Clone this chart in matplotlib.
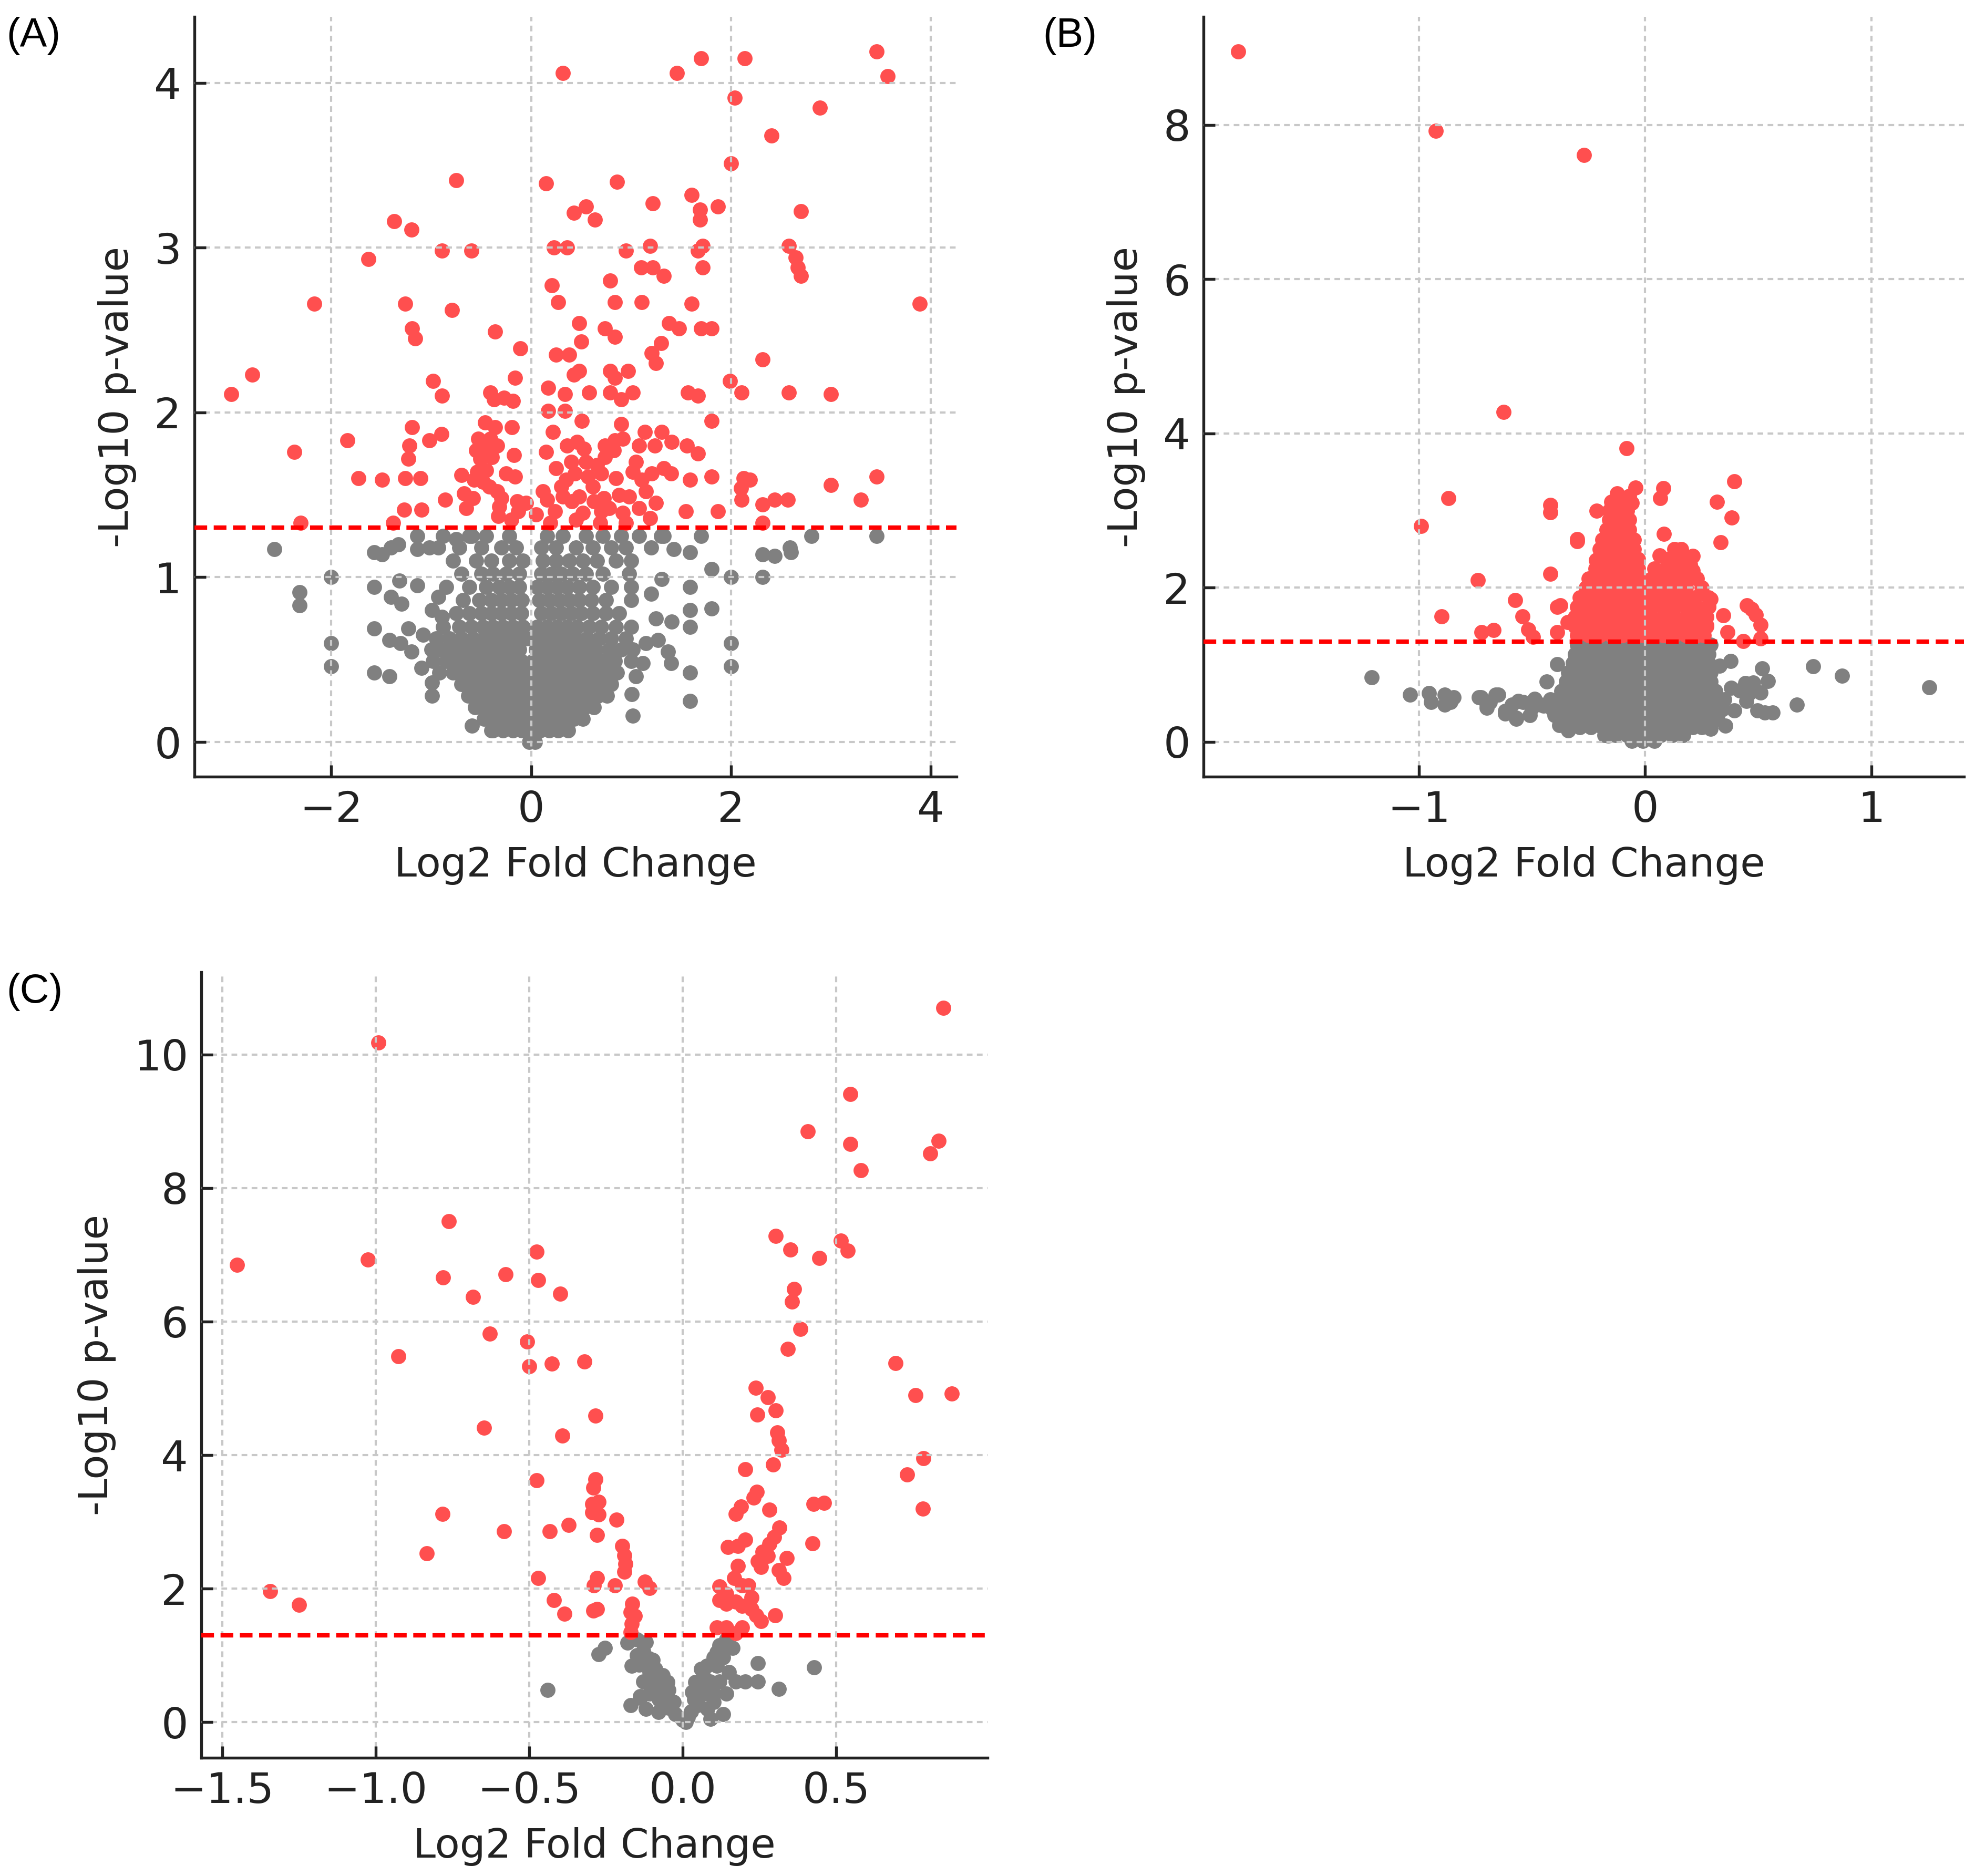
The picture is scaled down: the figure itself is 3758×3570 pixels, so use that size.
import matplotlib
matplotlib.use("Agg")
import matplotlib.pyplot as plt

# ---------------- Panel A data ----------------
a_sig = [
    (0.32, 4.06), (1.46, 4.06), (1.70, 4.15), (2.14, 4.15), (3.46, 4.19), (3.57, 4.04),
    (2.04, 3.91), (2.89, 3.85), (2.41, 3.68), (2.00, 3.51), (-0.75, 3.41), (0.15, 3.39),
    (0.86, 3.40), (1.22, 3.27), (1.61, 3.32), (1.69, 3.23), (1.69, 3.17), (1.87, 3.25),
    (0.55, 3.25), (0.43, 3.21), (0.64, 3.17), (2.70, 3.22), (-1.37, 3.16), (-1.20, 3.11),
    (-1.63, 2.93), (-0.89, 2.98), (-0.60, 2.98), (0.23, 3.00), (0.36, 3.00), (0.95, 2.98),
    (1.19, 3.01), (1.10, 2.88), (1.22, 2.88), (1.33, 2.83), (1.67, 2.98), (1.72, 3.01),
    (1.72, 2.88), (2.58, 3.01), (2.65, 2.94), (2.67, 2.88), (2.70, 2.83), (0.79, 2.80),
    (0.21, 2.77), (0.27, 2.67), (0.84, 2.67), (1.11, 2.67), (1.61, 2.66), (3.89, 2.66),
    (-2.17, 2.66), (-1.26, 2.66), (-0.79, 2.62), (-1.19, 2.51), (-1.16, 2.45), (-0.36, 2.49),
    (0.48, 2.54), (0.74, 2.51), (0.84, 2.46), (1.38, 2.54), (1.48, 2.51), (1.70, 2.51),
    (1.81, 2.51), (-0.11, 2.39), (0.50, 2.43), (0.25, 2.35), (0.38, 2.35), (1.21, 2.36),
    (1.30, 2.42), (1.25, 2.30), (2.32, 2.32), (-2.79, 2.23), (-0.16, 2.21), (-0.98, 2.19),
    (0.79, 2.25), (0.84, 2.21), (0.97, 2.25), (0.48, 2.25), (0.43, 2.23), (1.99, 2.19),
    (-3.00, 2.11), (-0.89, 2.10), (-0.41, 2.12), (-0.37, 2.08), (-0.27, 2.09), (-0.18, 2.07),
    (0.17, 2.15), (0.34, 2.11), (0.58, 2.12), (0.79, 2.12), (0.90, 2.08), (1.02, 2.12),
    (1.57, 2.12), (1.67, 2.10), (2.11, 2.12), (2.58, 2.12), (3.00, 2.11), (0.17, 2.01),
    (0.34, 2.01), (1.81, 1.95), (-1.19, 1.91), (-0.46, 1.94), (-0.36, 1.91), (-0.19, 1.91),
    (0.22, 1.88), (0.51, 1.95), (0.90, 1.93), (1.14, 1.88), (1.31, 1.88), (-1.02, 1.83),
    (-0.90, 1.87), (-1.84, 1.83), (-2.37, 1.76), (-0.53, 1.84), (-0.41, 1.84), (-0.44, 1.78),
    (-0.34, 1.80), (-1.22, 1.80), (-1.23, 1.72), (-0.55, 1.77), (-0.51, 1.72), (-0.39, 1.73),
    (-0.17, 1.74), (0.36, 1.80), (0.46, 1.82), (0.53, 1.78), (0.15, 1.76), (0.74, 1.80),
    (0.84, 1.83), (0.92, 1.84), (0.83, 1.77), (0.74, 1.73), (1.08, 1.80), (1.24, 1.80),
    (1.41, 1.82), (1.56, 1.80), (1.67, 1.75), (-1.73, 1.60), (-1.49, 1.59), (-1.26, 1.60),
    (-1.11, 1.60), (-0.70, 1.62), (-0.57, 1.59), (-0.48, 1.58), (-0.54, 1.64), (-0.25, 1.63),
    (-0.16, 1.61), (0.25, 1.66), (0.35, 1.59), (0.44, 1.63), (0.57, 1.61), (0.70, 1.63),
    (1.02, 1.64), (1.11, 1.59), (1.21, 1.63), (1.33, 1.66), (1.40, 1.63), (1.59, 1.59),
    (1.81, 1.61), (2.13, 1.60), (2.19, 1.59), (2.10, 1.54), (3.00, 1.56), (3.46, 1.61),
    (3.30, 1.47), (2.44, 1.47), (2.57, 1.47), (2.32, 1.44), (2.11, 1.47), (1.87, 1.40),
    (-0.86, 1.47), (-0.67, 1.51), (-0.65, 1.42), (-1.27, 1.41), (-1.10, 1.41), (-0.34, 1.52),
    (-0.32, 1.43), (-0.33, 1.37), (-0.14, 1.46), (-0.13, 1.40), (0.16, 1.47), (0.24, 1.40),
    (0.32, 1.49), (0.41, 1.46), (0.48, 1.49), (0.52, 1.39), (0.63, 1.46), (0.73, 1.48),
    (0.78, 1.42), (0.98, 1.49), (1.08, 1.42), (0.92, 1.39), (1.19, 1.36), (-2.31, 1.33),
    (-1.38, 1.33), (2.32, 1.33), (0.19, 1.33), (0.69, 1.33), (0.95, 1.33),
    (-0.45, 1.65), (-0.42, 1.55), (-0.30, 1.48), (0.30, 1.55), (0.40, 1.70), (0.55, 1.70),
    (0.62, 1.55), (0.66, 1.68), (0.85, 1.60), (0.88, 1.50), (1.05, 1.70), (1.15, 1.52),
    (0.12, 1.52), (0.05, 1.38), (-0.05, 1.45), (0.45, 1.35), (-0.58, 1.48), (-0.20, 1.35),
    (0.70, 1.40), (1.25, 1.45), (1.55, 1.40),
]

a_nonsig_scatter = [
    (-2.57, 1.17), (-2.00, 1.00), (-2.32, 0.91), (-2.32, 0.83), (-2.00, 0.60), (-2.00, 0.46),
    (-1.57, 1.15), (-1.49, 1.14), (-1.40, 1.18), (-1.33, 1.20), (-1.57, 0.94), (-1.40, 0.88),
    (-1.32, 0.98), (-1.30, 0.84), (-1.57, 0.69), (-1.42, 0.62), (-1.31, 0.60), (-1.23, 0.69),
    (-1.57, 0.42), (-1.42, 0.40), (-1.14, 1.17), (-1.14, 1.25), (-0.93, 1.18), (-0.75, 1.23),
    (-0.59, 1.25), (-0.93, 0.88), (-0.89, 0.76), (-0.99, 0.80), (2.60, 1.15), (2.32, 1.14),
    (2.44, 1.13), (2.81, 1.25), (3.46, 1.25), (2.59, 1.18), (2.32, 1.00), (2.00, 1.00),
    (2.00, 0.60), (2.00, 0.46), (1.81, 1.05), (1.81, 0.81), (1.59, 1.15), (1.59, 0.94),
    (1.59, 0.80), (1.59, 0.70), (1.59, 0.42), (1.59, 0.25), (1.70, 1.25), (1.43, 1.17),
    (1.33, 1.25), (1.31, 0.99), (1.41, 0.73), (1.27, 0.62), (1.37, 0.55), (1.40, 0.48),
    (1.02, 0.16), (1.01, 0.29), (-0.99, 0.28), (-0.99, 0.36), (-0.59, 0.10), (-0.40, 0.07),
    (-1.14, 0.95), (-1.20, 0.55), (-1.10, 0.45), (1.20, 0.90), (1.25, 0.75), (1.15, 0.60),
    (1.05, 0.40), (1.12, 0.48), (-1.08, 0.65),
]

a_nonsig_rows = [
    (0.00, [-0.02, 0.04]),
    (0.07, [-0.38, -0.28, -0.18, -0.09, 0.00, 0.09, 0.18, 0.27, 0.37]),
    (0.14, [-0.47, -0.37, -0.27, -0.17, -0.07, 0.03, 0.13, 0.23, 0.33, 0.43, 0.52]),
    (0.21, [-0.56, -0.46, -0.36, -0.26, -0.16, -0.06, 0.04, 0.14, 0.24, 0.34, 0.44, 0.54, 0.63]),
    (0.28, [-0.63, -0.53, -0.43, -0.33, -0.23, -0.13, -0.03, 0.07, 0.17, 0.27, 0.37, 0.47, 0.57, 0.67, 0.76]),
    (0.35, [-0.70, -0.60, -0.50, -0.40, -0.30, -0.20, -0.10, 0.00, 0.10, 0.20, 0.30, 0.40, 0.50, 0.60, 0.70, 0.80]),
    (0.42, [-0.92, -0.78, -0.67, -0.56, -0.45, -0.35, -0.25, -0.15, -0.05, 0.06, 0.16, 0.26, 0.36, 0.46, 0.56, 0.66, 0.76, 0.86]),
    (0.49, [-0.98, -0.85, -0.74, -0.62, -0.50, -0.40, -0.30, -0.20, -0.10, 0.02, 0.12, 0.22, 0.32, 0.42, 0.52, 0.62, 0.72, 0.84, 1.00]),
    (0.56, [-1.00, -0.90, -0.78, -0.66, -0.55, -0.44, -0.33, -0.22, -0.12, 0.05, 0.15, 0.25, 0.35, 0.45, 0.55, 0.65, 0.78, 0.90, 1.02]),
    (0.63, [-0.95, -0.82, -0.70, -0.58, -0.47, -0.36, -0.25, -0.15, -0.04, 0.05, 0.15, 0.25, 0.35, 0.45, 0.56, 0.68, 0.80, 0.95]),
    (0.70, [-0.88, -0.72, -0.60, -0.48, -0.38, -0.28, -0.18, -0.08, 0.06, 0.16, 0.26, 0.36, 0.46, 0.58, 0.70, 0.85, 1.00]),
    (0.78, [-0.75, -0.62, -0.50, -0.40, -0.30, -0.20, -0.10, 0.10, 0.20, 0.30, 0.40, 0.50, 0.62, 0.75, 0.88]),
    (0.86, [-0.68, -0.52, -0.40, -0.30, -0.20, -0.09, 0.08, 0.18, 0.28, 0.38, 0.48, 0.60, 0.75, 1.00]),
    (0.94, [-0.85, -0.62, -0.45, -0.32, -0.22, -0.12, 0.06, 0.16, 0.26, 0.36, 0.48, 0.62, 0.80, 1.00]),
    (1.02, [-0.70, -0.50, -0.38, -0.25, -0.12, 0.10, 0.20, 0.30, 0.42, 0.55, 0.72, 0.98]),
    (1.10, [-0.78, -0.55, -0.40, -0.22, -0.08, 0.12, 0.25, 0.38, 0.52, 0.66, 0.85, 1.00]),
    (1.18, [-1.02, -0.72, -0.50, -0.30, -0.15, 0.10, 0.25, 0.45, 0.62, 0.80, 0.95, 1.20]),
    (1.25, [-0.88, -0.62, -0.45, -0.22, 0.16, 0.32, 0.55, 0.72, 0.90, 1.08, 1.30]),
]

# ---------------- Panel B data ----------------
b_sig = [
    (-1.80, 8.95), (-0.925, 7.92), (-0.27, 7.61), (-0.625, 4.28), (-0.083, 3.81), (0.395, 3.38),
    (-0.87, 3.16), (-0.99, 2.80), (-0.42, 3.07), (-0.42, 2.98), (0.317, 3.11), (0.383, 2.91),
    (0.333, 2.59), (-0.30, 2.63), (-0.215, 3.00), (0.08, 3.29), (0.067, 3.16), (0.084, 2.70),
    (0.064, 2.42), (-0.043, 3.30), (-0.07, 3.19), (-0.123, 3.22), (-0.15, 3.11), (-0.74, 2.10),
    (-0.42, 2.18), (-0.90, 1.63), (-0.576, 1.84), (-0.543, 1.63), (-0.516, 1.46), (-0.496, 1.36),
    (-0.723, 1.42), (-0.67, 1.45), (-0.39, 1.75), (-0.376, 1.77), (-0.343, 1.55), (-0.39, 1.42),
    (0.346, 1.64), (0.365, 1.42), (0.435, 1.31), (0.45, 1.77), (0.47, 1.72), (0.49, 1.65),
    (0.51, 1.52), (0.51, 1.34), (0.28, 1.76), (0.29, 1.85), (0.27, 1.51), (0.21, 2.41),
    (0.20, 2.30), (0.21, 2.22), (-0.30, 2.60), (-0.216, 2.36),
]

b_sig_rows = [
    (1.38, [-0.30, -0.25, -0.20, -0.15, -0.10, -0.05, -0.01, 0.03, 0.08, 0.13, 0.18, 0.23, 0.26]),
    (1.50, [-0.31, -0.26, -0.21, -0.16, -0.11, -0.06, -0.01, 0.03, 0.08, 0.13, 0.18, 0.23, 0.27]),
    (1.62, [-0.31, -0.26, -0.21, -0.16, -0.11, -0.06, -0.01, 0.03, 0.08, 0.13, 0.18, 0.23, 0.27]),
    (1.75, [-0.30, -0.25, -0.20, -0.15, -0.10, -0.05, -0.01, 0.03, 0.08, 0.13, 0.18, 0.23, 0.28]),
    (1.87, [-0.29, -0.24, -0.19, -0.14, -0.09, -0.04, 0.02, 0.07, 0.12, 0.17, 0.22, 0.28]),
    (2.00, [-0.26, -0.21, -0.16, -0.11, -0.06, -0.02, 0.03, 0.08, 0.13, 0.18, 0.25]),
    (2.12, [-0.25, -0.20, -0.15, -0.10, -0.05, -0.02, 0.03, 0.08, 0.13, 0.18, 0.23]),
    (2.25, [-0.22, -0.17, -0.12, -0.07, -0.03, 0.04, 0.09, 0.14, 0.19]),
    (2.37, [-0.21, -0.16, -0.11, -0.06, -0.03, 0.10, 0.15, 0.19]),
    (2.50, [-0.20, -0.15, -0.10, -0.05, 0.13, 0.16]),
    (2.62, [-0.19, -0.14, -0.09, -0.05]),
    (2.75, [-0.17, -0.12, -0.07]),
    (2.88, [-0.16, -0.11, -0.07]),
    (3.00, [-0.16, -0.12, -0.08]),
    (3.10, [-0.13, -0.09, -0.06]),
]

b_nonsig_scatter = [
    (-1.21, 0.84), (-1.04, 0.61), (-0.955, 0.63), (-0.946, 0.52), (-0.887, 0.61), (-0.86, 0.52),
    (-0.847, 0.58), (-0.887, 0.48), (-0.727, 0.58), (-0.686, 0.52), (-0.65, 0.61), (-0.70, 0.48),
    (-0.62, 0.37), (-0.59, 0.48), (-0.57, 0.31), (-0.54, 0.52), (-0.50, 0.44), (-0.46, 0.48),
    (-0.736, 0.58), (-0.66, 0.61), (-0.70, 0.44), (-0.62, 0.40), (-0.56, 0.53), (-0.57, 0.30),
    (-0.49, 0.56), (-0.51, 0.35), (-0.45, 0.47), (-0.435, 0.78), (-0.39, 1.01), (-0.32, 1.02),
    (0.377, 1.05), (0.33, 0.99), (0.517, 0.95), (0.544, 0.79), (0.477, 0.77), (0.444, 0.76),
    (0.417, 0.67), (0.464, 0.64), (0.51, 0.64), (0.447, 0.53), (0.395, 0.41), (0.497, 0.41),
    (0.53, 0.38), (0.563, 0.38), (0.67, 0.48), (0.743, 0.98), (0.87, 0.86), (1.257, 0.71),
    (0.29, 0.17), (0.355, 0.21), (-0.163, 0.08), (-0.40, 0.35), (-0.38, 0.22), (-0.34, 0.15),
    (-0.42, 0.55), (0.35, 0.55), (0.38, 0.70), (0.32, 0.30),
]

b_nonsig_rows = [
    (1.26, [-0.30, -0.25, -0.20, -0.15, -0.10, -0.05, 0.00, 0.05, 0.10, 0.15, 0.20, 0.25, 0.29]),
    (1.14, [-0.31, -0.26, -0.21, -0.16, -0.11, -0.06, -0.01, 0.04, 0.09, 0.14, 0.19, 0.24, 0.28]),
    (1.02, [-0.32, -0.27, -0.22, -0.17, -0.12, -0.07, -0.02, 0.03, 0.08, 0.13, 0.18, 0.23, 0.28]),
    (0.90, [-0.34, -0.29, -0.24, -0.19, -0.14, -0.09, -0.04, 0.01, 0.06, 0.11, 0.16, 0.21, 0.26, 0.29]),
    (0.78, [-0.35, -0.30, -0.25, -0.20, -0.15, -0.10, -0.05, 0.00, 0.05, 0.10, 0.15, 0.20, 0.25, 0.29]),
    (0.66, [-0.37, -0.32, -0.27, -0.22, -0.17, -0.12, -0.07, -0.02, 0.03, 0.08, 0.13, 0.18, 0.23, 0.28, 0.31]),
    (0.54, [-0.40, -0.35, -0.30, -0.25, -0.20, -0.15, -0.10, -0.05, 0.00, 0.05, 0.10, 0.15, 0.20, 0.25, 0.30, 0.33]),
    (0.42, [-0.41, -0.36, -0.31, -0.26, -0.21, -0.16, -0.11, -0.06, -0.01, 0.04, 0.09, 0.14, 0.19, 0.24, 0.29, 0.34]),
    (0.30, [-0.36, -0.31, -0.26, -0.21, -0.16, -0.11, -0.06, -0.01, 0.04, 0.09, 0.14, 0.19, 0.24, 0.29]),
    (0.19, [-0.29, -0.24, -0.19, -0.14, -0.09, -0.04, 0.01, 0.06, 0.11, 0.16, 0.21, 0.25]),
    (0.09, [-0.18, -0.13, -0.08, -0.03, 0.02, 0.07, 0.12, 0.17]),
    (0.01, [-0.06, -0.01, 0.04]),
]

# ---------------- Panel C data ----------------
c_sig = [
    (0.849, 10.70), (-0.991, 10.18), (0.546, 9.41), (0.407, 8.85), (0.546, 8.66), (0.579, 8.27),
    (0.833, 8.71), (0.806, 8.52), (-0.762, 7.50), (0.303, 7.28), (0.515, 7.21), (0.536, 7.06),
    (0.351, 7.08), (0.444, 6.95), (-0.476, 7.05), (-1.452, 6.85), (-1.026, 6.93), (-0.781, 6.66),
    (-0.577, 6.71), (-0.471, 6.62), (-0.683, 6.37), (-0.40, 6.42), (0.363, 6.49), (0.355, 6.30),
    (0.382, 5.89), (-0.629, 5.82), (-0.507, 5.70), (0.341, 5.59), (-0.926, 5.48), (-0.50, 5.33),
    (-0.426, 5.37), (-0.32, 5.40), (0.692, 5.38), (0.237, 5.01), (0.276, 4.87), (0.758, 4.90),
    (0.876, 4.92), (0.243, 4.61), (0.303, 4.67), (-0.285, 4.59), (-0.648, 4.41), (-0.393, 4.29),
    (0.307, 4.34), (0.312, 4.22), (0.322, 4.08), (0.783, 3.95), (0.731, 3.71), (0.204, 3.79),
    (0.293, 3.86), (-0.476, 3.62), (-0.285, 3.64), (-0.291, 3.51), (0.241, 3.45), (0.230, 3.36),
    (0.426, 3.27), (0.459, 3.28), (0.781, 3.20), (-0.274, 3.30), (-0.295, 3.14), (-0.274, 3.11),
    (-0.295, 3.27), (0.189, 3.23), (0.172, 3.12), (0.282, 3.18), (-0.783, 3.12), (-0.216, 3.03),
    (-0.372, 2.95), (-0.582, 2.86), (-0.434, 2.86), (-0.280, 2.80), (0.314, 2.91), (0.297, 2.77),
    (0.282, 2.67), (0.260, 2.55), (0.276, 2.49), (0.339, 2.46), (0.204, 2.73), (0.179, 2.64),
    (0.147, 2.62), (0.422, 2.68), (-0.197, 2.64), (-0.191, 2.50), (-0.187, 2.37), (-0.191, 2.25),
    (-0.833, 2.53), (0.245, 2.41), (0.255, 2.32), (0.179, 2.34), (0.168, 2.16), (0.312, 2.28),
    (0.328, 2.16), (-0.471, 2.16), (-0.280, 2.16), (-0.289, 2.05), (-0.222, 2.05), (-0.123, 2.10),
    (-0.108, 2.01), (0.120, 2.03), (0.141, 1.92), (0.193, 2.05), (0.214, 2.05), (0.224, 1.87),
    (-1.344, 1.96), (-1.250, 1.76), (-0.420, 1.83), (-0.386, 1.62), (-0.280, 1.69), (-0.291, 1.67),
    (-0.164, 1.77), (-0.170, 1.65), (-0.156, 1.59), (-0.166, 1.47), (0.120, 1.83), (0.141, 1.77),
    (0.172, 1.80), (0.193, 1.74), (0.224, 1.69), (0.239, 1.60), (0.255, 1.51), (0.301, 1.60),
    (0.110, 1.42), (0.141, 1.42), (0.172, 1.33), (0.193, 1.42), (-0.170, 1.35),
]

c_nonsig = [
    (-0.181, 1.19), (-0.150, 1.24), (-0.129, 1.06), (-0.166, 0.84), (-0.143, 0.86), (-0.098, 0.93),
    (-0.108, 0.75), (-0.129, 0.61), (-0.087, 0.57), (-0.066, 0.39), (-0.108, 0.43), (-0.077, 0.34),
    (-0.046, 0.21), (-0.025, 0.12), (0.000, 0.03), (-0.139, 0.39), (-0.170, 0.25), (-0.066, 0.70),
    (-0.046, 0.48), (-0.253, 1.11), (-0.274, 1.02), (-0.440, 0.48), (-0.139, 0.36), (0.141, 1.24),
    (0.120, 1.15), (0.100, 0.97), (0.079, 0.84), (0.069, 0.66), (0.058, 0.52), (0.037, 0.34),
    (0.027, 0.16), (0.017, 0.07), (0.131, 0.97), (0.110, 0.84), (0.089, 0.61), (0.069, 0.43),
    (0.048, 0.25), (0.120, 0.61), (0.100, 0.43), (0.141, 0.43), (0.131, 0.12), (0.162, 1.11),
    (0.172, 0.61), (0.245, 0.88), (0.204, 0.61), (0.245, 0.61), (0.312, 0.50), (0.428, 0.82),
    (-0.12, 1.20), (-0.15, 1.00), (-0.11, 0.95), (-0.09, 0.80), (-0.05, 0.60), (-0.03, 0.30),
    (-0.12, 0.20), (-0.08, 0.15), (0.01, 0.00), (0.03, 0.45), (0.05, 0.35), (0.08, 0.20),
    (0.09, 0.05), (0.11, 1.05), (0.13, 1.10), (0.15, 0.75), (0.06, 0.80), (0.10, 0.30),
    (0.04, 0.60),
]

# axis settings
a_xticks = [-2, 0, 2, 4]
a_yticks = [0, 1, 2, 3, 4]
b_xticks = [-1, 0, 1]
b_yticks = [0, 2, 4, 6, 8]
c_xticks = [-1.5, -1.0, -0.5, 0.0, 0.5]
c_yticks = [0, 2, 4, 6, 8, 10]
threshold = 1.301  # -log10(0.05)
x_label = "Log2 Fold Change"
y_label = "-Log10 p-value"
panel_labels = ["(A)", "(B)", "(C)"]

RED = "#FF4F4F"
GREY = "#808080"
MS = 48


def unpack(points):
    return [p[0] for p in points], [p[1] for p in points]


def unpack_rows(rows):
    xs, ys = [], []
    for y, row in rows:
        for x in row:
            xs.append(x)
            ys.append(y)
    return xs, ys


def style(ax, xticks, yticks, xlim, ylim):
    ax.set_xlim(*xlim)
    ax.set_ylim(*ylim)
    ax.set_xticks(xticks)
    ax.set_yticks(yticks)
    ax.set_axisbelow(False)
    ax.grid(True, color="#c8c8c8", linewidth=1.0, linestyle=(0, (2.6, 2.0)))
    for s in ("top", "right"):
        ax.spines[s].set_visible(False)
    for s in ("left", "bottom"):
        ax.spines[s].set_linewidth(1.3)
        ax.spines[s].set_color("#222222")
    ax.tick_params(direction="in", length=5.2, width=1.3, labelsize=19.5,
                   pad=6, colors="#222222", labelcolor="#222222")
    ax.axhline(threshold, color="red", linewidth=2.0, dashes=(2.9, 1.5), zorder=3)
    ax.set_xlabel(x_label, fontsize=18.5, labelpad=7, color="#222222")
    ax.set_ylabel(y_label, fontsize=18.5, labelpad=8, color="#222222")


fig = plt.figure(figsize=(3758 / 300, 3570 / 300), dpi=300)
axA = fig.add_axes([0.0985, 0.586, 0.3858, 0.405])
axB = fig.add_axes([0.6094, 0.586, 0.3850, 0.405])
axC = fig.add_axes([0.1019, 0.063, 0.3981, 0.4188])

# Panel A
gx, gy = unpack(a_nonsig_scatter)
rx, ry = unpack_rows(a_nonsig_rows)
axA.scatter(gx + rx, gy + ry, s=MS, color=GREY, linewidths=0, zorder=1)
sx, sy = unpack(a_sig)
axA.scatter(sx, sy, s=MS, color=RED, linewidths=0, zorder=1.5)
style(axA, a_xticks, a_yticks, (-3.37, 4.26), (-0.21, 4.40))

# Panel B
gx, gy = unpack(b_nonsig_scatter)
rx, ry = unpack_rows(b_nonsig_rows)
axB.scatter(gx + rx, gy + ry, s=MS, color=GREY, linewidths=0, zorder=1)
sx, sy = unpack(b_sig)
rx, ry = unpack_rows(b_sig_rows)
axB.scatter(sx + rx, sy + ry, s=MS, color=RED, linewidths=0, zorder=1.5)
style(axB, b_xticks, b_yticks, (-1.953, 1.41), (-0.45, 9.40))

# Panel C
gx, gy = unpack(c_nonsig)
axC.scatter(gx, gy, s=MS, color=GREY, linewidths=0, zorder=1)
sx, sy = unpack(c_sig)
axC.scatter(sx, sy, s=MS, color=RED, linewidths=0, zorder=1.5)
style(axC, c_xticks, c_yticks, (-1.568, 0.992), (-0.535, 11.235))

lab_font = dict(fontsize=18.5, family=["Liberation Sans", "DejaVu Sans"], va="top", ha="left")
fig.text(0.0032, 0.991, panel_labels[0], **lab_font)
fig.text(0.528, 0.991, panel_labels[1], **lab_font)
fig.text(0.0032, 0.4815, panel_labels[2], **lab_font)

fig.savefig("out.png", dpi=300)
